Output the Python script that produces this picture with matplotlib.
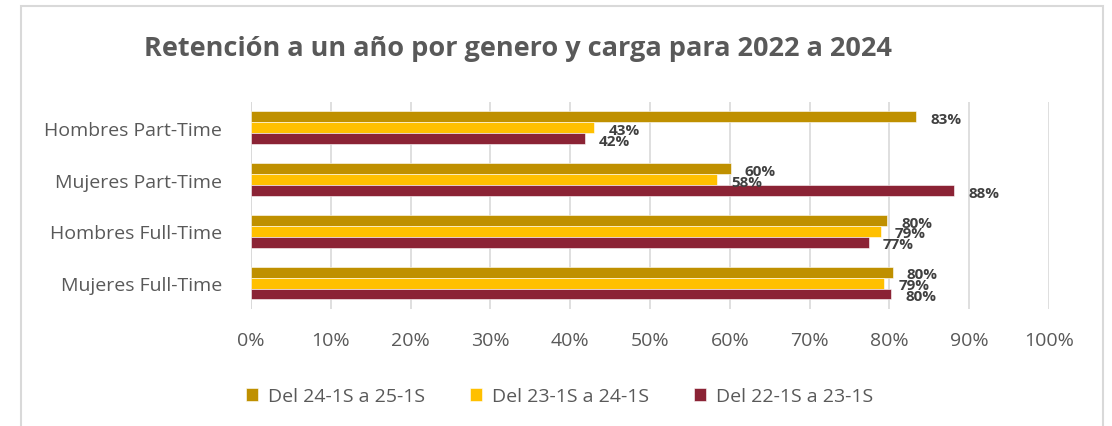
import numpy as np
import matplotlib
matplotlib.use('Agg')
import matplotlib.pyplot as plt
from matplotlib.patches import Rectangle

categories = ['Hombres Part-Time', 'Mujeres Part-Time', 'Hombres Full-Time', 'Mujeres Full-Time']
series_names = ['Del 24-1S a 25-1S', 'Del 23-1S a 24-1S', 'Del 22-1S a 23-1S']
vals_24_25 = [83.4, 60.1, 79.7, 80.4]
vals_23_24 = [43.0, 58.4, 78.9, 79.3]
vals_22_23 = [41.8, 88.1, 77.4, 80.2]
labels_24_25 = ['83%', '60%', '80%', '80%']
labels_23_24 = ['43%', '58%', '79%', '79%']
labels_22_23 = ['42%', '88%', '77%', '80%']
xticks = [0, 10, 20, 30, 40, 50, 60, 70, 80, 90, 100]

colors = ['#BF9000', '#FFC000', '#8B2335']
gray = '#595959'
plt.rcParams['font.family'] = ['Open Sans', 'DejaVu Sans']

fig = plt.figure(figsize=(11.12, 4.27), dpi=100)
ax = fig.add_axes([0.2257, 0.274, 0.7176, 0.485])

# chart frame like the excel object border
fig.patches.append(Rectangle((21 / 1112, -0.1), 1082 / 1112, 1.1 - 7 / 427,
                             transform=fig.transFigure, fill=False,
                             edgecolor='#D9D9D9', linewidth=1.5, clip_on=False))

y = np.arange(len(categories))
h = 0.21
all_vals = [vals_24_25, vals_23_24, vals_22_23]
all_labels = [labels_24_25, labels_23_24, labels_22_23]
for i, (vals, labs) in enumerate(zip(all_vals, all_labels)):
    ypos = y + (i - 1) * h
    ax.barh(ypos, vals, height=h, color=colors[i], label=series_names[i],
            edgecolor='white', linewidth=0.4, zorder=3)
    for yy, v, lab in zip(ypos, vals, labs):
        ax.text(v + 1.8, yy + 0.04, lab, va='center', ha='left', fontsize=11,
                fontweight='bold', color='#404040', zorder=4)

ax.set_ylim(len(categories) - 0.5, -0.5)
ax.set_xlim(0, 100)
ax.set_xticks(xticks)
ax.set_xticklabels([f'{t}%' for t in xticks])
ax.set_yticks(y)
ax.set_yticklabels(categories)
ax.tick_params(axis='both', length=0, labelsize=14, labelcolor=gray)
ax.tick_params(axis='x', pad=16)
ax.tick_params(axis='y', pad=21)
ax.grid(axis='x', color='#D9D9D9', linewidth=1.2, zorder=0)
for s in ax.spines.values():
    s.set_visible(False)
ax.axvline(0, color='#D9D9D9', linewidth=1.2, zorder=1)

fig.text(0.466, 0.885, 'Retención a un año por genero y carga para 2022 a 2024',
         ha='center', va='center', fontsize=19.5, fontweight='bold', color=gray)

leg = fig.legend(loc='center', bbox_to_anchor=(0.503, 0.07), ncol=3, frameon=False,
                 fontsize=14, handlelength=0.65, handleheight=0.65,
                 columnspacing=2.3, handletextpad=0.5)
for t in leg.get_texts():
    t.set_color(gray)

fig.text(0.935, -0.02, '10/06/2025', ha='left', va='center', fontsize=12,
         color='#222222')

fig.savefig('out.png', dpi=100)
